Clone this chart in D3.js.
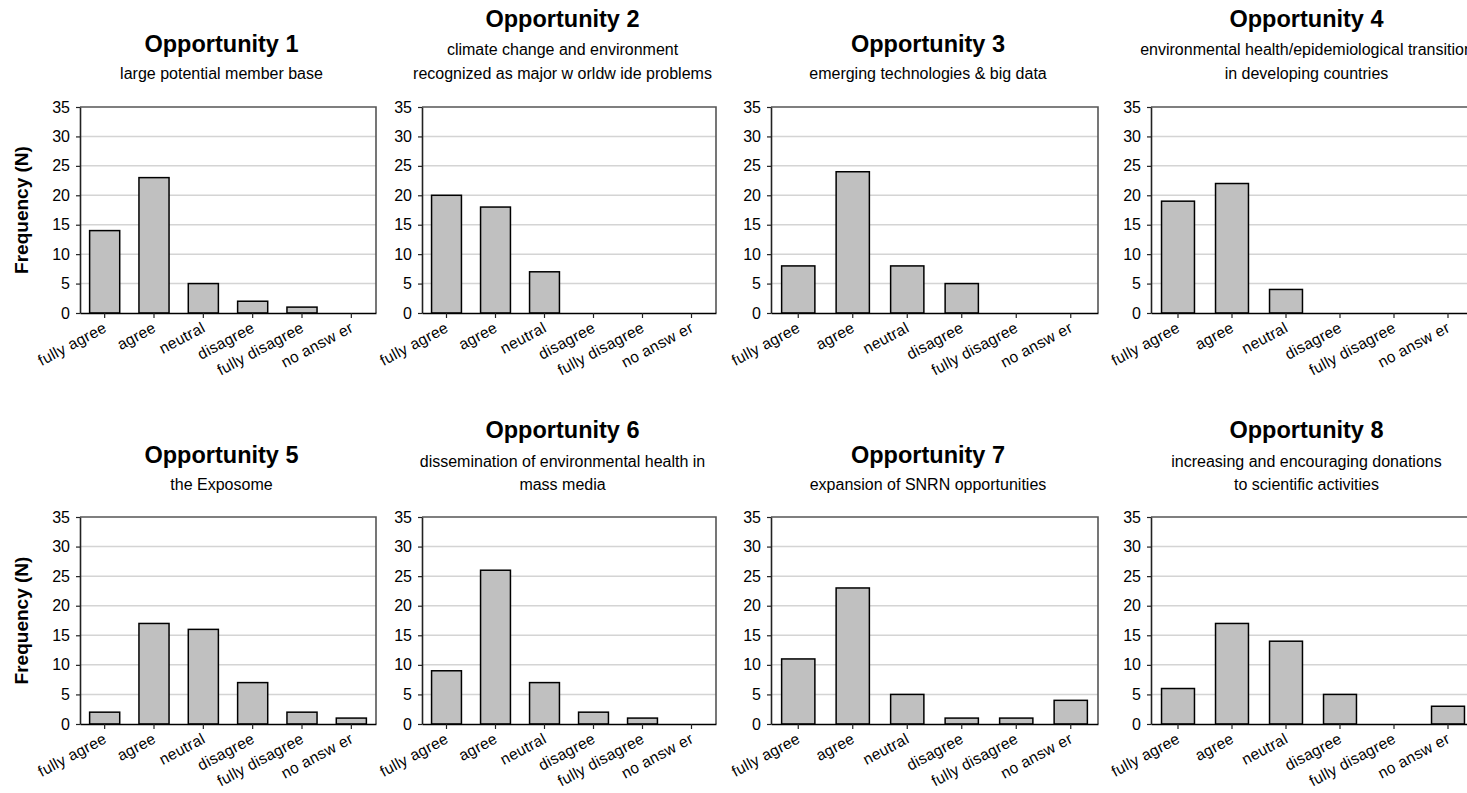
<!DOCTYPE html>
<html>
<head>
<meta charset="utf-8">
<script src="https://cdn.jsdelivr.net/npm/d3@7"></script>
<style>
  body { margin: 0; background: #fff; }
  svg { display: block; }
  text { font-family: "Liberation Sans", Arial, Helvetica, sans-serif; fill: #000; }
</style>
</head>
<body>
<svg id="chart" width="1467" height="793"></svg>
<script>
// Survey answer categories (x axis of every panel)
const categories = ["fully agree", "agree", "neutral", "disagree", "fully disagree", "no answ er"];

// Panel titles and subtitle lines
const titles = ["Opportunity 1", "Opportunity 2", "Opportunity 3", "Opportunity 4",
                "Opportunity 5", "Opportunity 6", "Opportunity 7", "Opportunity 8"];
const subtitles = [
  ["large potential member base"],
  ["climate change and environment", "recognized as major w orldw ide problems"],
  ["emerging technologies & big data"],
  ["environmental health/epidemiological transition", "in developing countries"],
  ["the Exposome"],
  ["dissemination of environmental health in", "mass media"],
  ["expansion of SNRN opportunities"],
  ["increasing and encouraging donations", "to scientific activities"]
];

// Frequencies per answer category
const opportunity1 = [14, 23, 5, 2, 1, 0];
const opportunity2 = [20, 18, 7, 0, 0, 0];
const opportunity3 = [8, 24, 8, 5, 0, 0];
const opportunity4 = [19, 22, 4, 0, 0, 0];
const opportunity5 = [2, 17, 16, 7, 2, 1];
const opportunity6 = [9, 26, 7, 2, 1, 0];
const opportunity7 = [11, 23, 5, 1, 1, 4];
const opportunity8 = [6, 17, 14, 5, 0, 3];
const series = [opportunity1, opportunity2, opportunity3, opportunity4,
                opportunity5, opportunity6, opportunity7, opportunity8];

// Y axis
const yTicks = [0, 5, 10, 15, 20, 25, 30, 35];
const yMax = 35;
const yLabel = "Frequency (N)";

// Grid layout of the panels (plot-area edges)
const colLeft  = [80, 422, 771, 1151];
const colRight = [376, 716, 1098, 1475];
const rowTop    = [107, 517];
const rowBottom = [313, 724];

const svg = d3.select("#chart");

series.forEach((values, i) => {
  const col = i % 4, row = Math.floor(i / 4);
  const l = colLeft[col], r = colRight[col];
  const t = rowTop[row], b = rowBottom[row];
  const g = svg.append("g");

  const x = d3.scaleBand().domain(categories).range([l, r])
    .paddingInner(0.39).paddingOuter(0.195);
  const y = d3.scaleLinear().domain([0, yMax]).range([b, t]);

  // horizontal gridlines
  g.append("g").selectAll("line")
    .data(yTicks.filter(v => v > 0 && v < yMax))
    .join("line")
    .attr("x1", l).attr("x2", r)
    .attr("y1", d => y(d)).attr("y2", d => y(d))
    .attr("stroke", "#d4d4d4").attr("stroke-width", 1.5);

  // bars
  g.append("g").selectAll("rect")
    .data(values.map((v, k) => ({ cat: categories[k], v })).filter(d => d.v > 0))
    .join("rect")
    .attr("x", d => x(d.cat))
    .attr("width", x.bandwidth())
    .attr("y", d => y(d.v))
    .attr("height", d => y(0) - y(d.v))
    .attr("fill", "#c0c0c0")
    .attr("stroke", "#000")
    .attr("stroke-width", 1.5);

  // top and right frame of the plot area
  g.append("path")
    .attr("d", `M${l},${t}H${r}V${b}`)
    .attr("fill", "none")
    .attr("stroke", "#555")
    .attr("stroke-width", 1.6);

  // y axis
  const ya = g.append("g")
    .attr("transform", `translate(${l},0)`)
    .call(d3.axisLeft(y).tickValues(yTicks).tickSize(4).tickPadding(6).tickSizeOuter(0));
  ya.attr("font-family", null);
  ya.select(".domain").attr("stroke", "#222").attr("stroke-width", 1.6);
  ya.selectAll(".tick line").attr("stroke", "#222").attr("stroke-width", 1.2);
  ya.selectAll(".tick text").attr("font-size", 16);

  // x axis with slanted category labels
  const xa = g.append("g")
    .attr("transform", `translate(0,${b})`)
    .call(d3.axisBottom(x).tickSize(5).tickSizeOuter(0));
  xa.attr("font-family", null);
  xa.select(".domain").attr("stroke", "#000").attr("stroke-width", 1.6);
  xa.selectAll(".tick line").attr("stroke", "#222").attr("stroke-width", 1.2);
  xa.selectAll(".tick text")
    .attr("font-size", 15.5)
    .attr("letter-spacing", 0.3)
    .attr("x", null).attr("y", null).attr("dy", null)
    .attr("text-anchor", "end")
    .attr("transform", "translate(3,18) rotate(-28)");

  // title and subtitle, centred slightly left of the plot centre
  const cx = (l + r) / 2 - 6.5;
  const lines = subtitles[i];
  const lastBase = row === 0 ? t - 28.5 : t - 27;
  const lineGap = 23.5;
  const firstBase = lastBase - lineGap * (lines.length - 1);
  const titleBase = lines.length === 1 ? firstBase - 27 : firstBase - 28.5;

  g.append("text")
    .attr("x", cx).attr("y", titleBase)
    .attr("text-anchor", "middle")
    .attr("font-size", 23.5)
    .attr("font-weight", "bold")
    .text(titles[i]);

  g.selectAll("text.sub")
    .data(lines)
    .join("text")
    .attr("class", "sub")
    .attr("x", cx)
    .attr("y", (d, k) => firstBase + k * lineGap)
    .attr("text-anchor", "middle")
    .attr("font-size", 16)
    .attr("fill", "#111")
    .text(d => d);

  // y axis title on the first panel of each row
  if (col === 0) {
    g.append("text")
      .attr("transform", `translate(28,${(t + b) / 2}) rotate(-90)`)
      .attr("text-anchor", "middle")
      .attr("font-size", 19)
      .attr("font-weight", "bold")
      .text(yLabel);
  }
});
</script>
</body>
</html>
